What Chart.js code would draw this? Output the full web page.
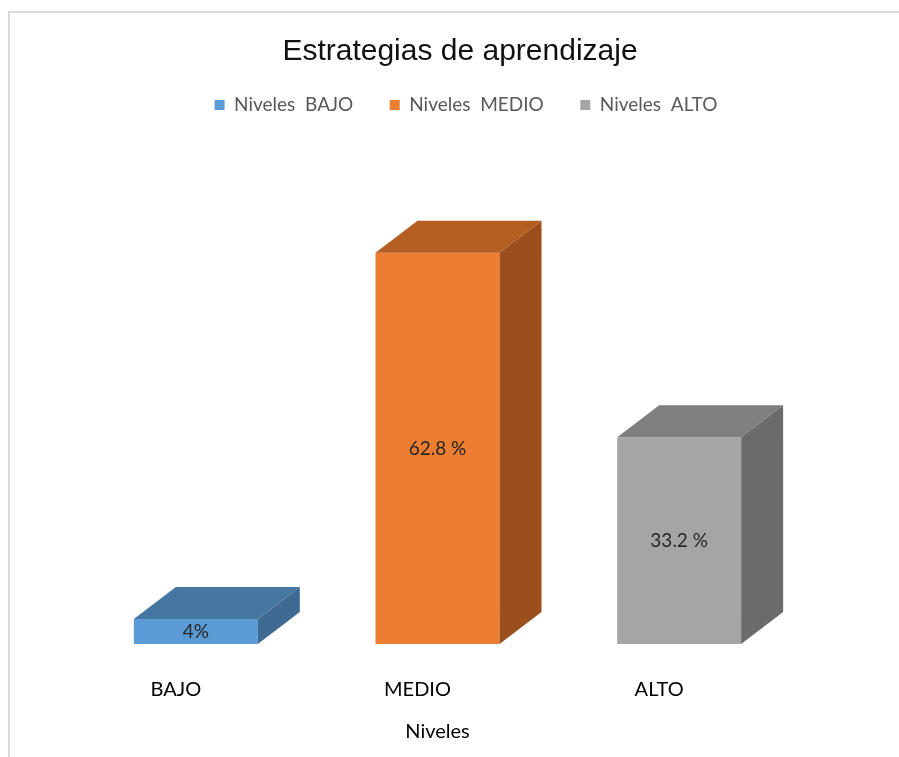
<!DOCTYPE html>
<html>
<head>
<meta charset="utf-8">
<script src="https://cdn.jsdelivr.net/npm/chart.js@4.4.1/dist/chart.umd.min.js"></script>
<style>
  html, body { margin: 0; padding: 0; background: #fff; }
  #wrap { position: relative; width: 899px; height: 757px; }
  #frame { position: absolute; left: 8px; top: 11px; right: 0; bottom: 0; border-top: 2px solid #d9d9d9; border-left: 2px solid #d9d9d9; pointer-events: none; }
  canvas { position: absolute; left: 0; top: 0; }
</style>
</head>
<body>
<div id="wrap">
  <canvas id="c" width="899" height="757"></canvas>
  <div id="frame"></div>
</div>
<script>
const categories = ["BAJO", "MEDIO", "ALTO"];
const seriesNames = ["Niveles  BAJO", "Niveles  MEDIO", "Niveles  ALTO"];
const valuesBajo = [4, null, null];
const valuesMedio = [null, 62.8, null];
const valuesAlto = [null, null, 33.2];
const dataLabels = ["4%", "62.8 %", "33.2 %"];
const frontColors = ["#5b9bd5", "#ed7d31", "#a5a5a5"];
const topColors = ["#4677a3", "#b45f22", "#7f7f7f"];
const sideColors = ["#3f6b93", "#9a4f1c", "#6b6b6b"];

const DX = 42, DY = -32;
const LEGEND_FONT = "Lato";

const bar3d = {
  id: 'bar3d',
  afterDatasetsDraw(chart) {
    const ctx = chart.ctx;
    chart.data.datasets.forEach((ds, di) => {
      const meta = chart.getDatasetMeta(di);
      meta.data.forEach((el, i) => {
        if (ds.data[i] == null) return;
        const p = el.getProps(['x', 'y', 'base', 'width'], true);
        const l = p.x - p.width / 2, r = p.x + p.width / 2;
        const t = p.y, b = p.base;
        ctx.save();
        ctx.fillStyle = topColors[di];
        ctx.beginPath();
        ctx.moveTo(l, t); ctx.lineTo(r, t); ctx.lineTo(r + DX, t + DY); ctx.lineTo(l + DX, t + DY); ctx.closePath();
        ctx.fill();
        ctx.fillStyle = sideColors[di];
        ctx.beginPath();
        ctx.moveTo(r, t); ctx.lineTo(r + DX, t + DY); ctx.lineTo(r + DX, b + DY); ctx.lineTo(r, b); ctx.closePath();
        ctx.fill();
        ctx.fillStyle = '#262626';
        ctx.font = '19px ' + LEGEND_FONT;
        ctx.textAlign = 'center';
        ctx.textBaseline = 'middle';
        ctx.fillText(dataLabels[di], p.x, (t + b) / 2);
        ctx.restore();
      });
    });
  }
};

const shiftLegend = {
  id: 'shiftLegend',
  afterUpdate(chart) {
    if (chart.legend) { chart.legend.left += 6; chart.legend.right += 6; }
  }
};

const whiteBg = {
  id: 'whiteBg',
  beforeDraw(chart) {
    const ctx = chart.ctx;
    ctx.save();
    ctx.fillStyle = '#fff';
    ctx.fillRect(0, 0, chart.width, chart.height);
    ctx.restore();
  }
};

const mk = (label, data, i) => ({
  label, data,
  backgroundColor: frontColors[i],
  borderWidth: 0,
  grouped: false,
  categoryPercentage: 1,
  barPercentage: 0.513
});

new Chart(document.getElementById('c'), {
  type: 'bar',
  data: {
    labels: categories,
    datasets: [
      mk(seriesNames[0], valuesBajo, 0),
      mk(seriesNames[1], valuesMedio, 1),
      mk(seriesNames[2], valuesAlto, 2)
    ]
  },
  options: {
    responsive: false,
    animation: false,
    layout: { padding: { left: 75, right: 54, top: 15, bottom: 13 } },
    plugins: {
      title: {
        display: true,
        text: 'Estrategias de aprendizaje',
        color: '#111',
        font: { family: 'Liberation Sans', size: 30, weight: 'normal' },
        padding: { top: 19, bottom: -10.9 }
      },
      legend: {
        display: true,
        labels: {
          color: '#595959',
          font: { family: LEGEND_FONT, size: 19 },
          boxWidth: 10,
          boxHeight: 10,
          padding: 36.5
        }
      },
      tooltip: { enabled: false }
    },
    scales: {
      x: {
        grid: { display: false, drawTicks: false },
        border: { display: false },
        ticks: { color: '#000', font: { family: LEGEND_FONT, size: 20 }, padding: 34, labelOffset: -20 },
        title: { display: true, text: 'Niveles', color: '#000', font: { family: LEGEND_FONT, size: 20 }, padding: { top: -16, bottom: 0 } }
      },
      xTop: {
        type: 'category',
        position: 'top',
        labels: categories,
        grid: { display: false, drawTicks: false },
        border: { display: false },
        ticks: { display: false },
        afterFit: s => { s.height = 83.4; }
      },
      y: {
        position: 'right',
        min: 0, max: 70,
        grid: { display: false, drawTicks: false },
        border: { display: false },
        ticks: { display: false },
        afterFit: s => { s.width = 45; }
      }
    }
  },
  plugins: [whiteBg, bar3d, shiftLegend]
});
</script>
</body>
</html>
